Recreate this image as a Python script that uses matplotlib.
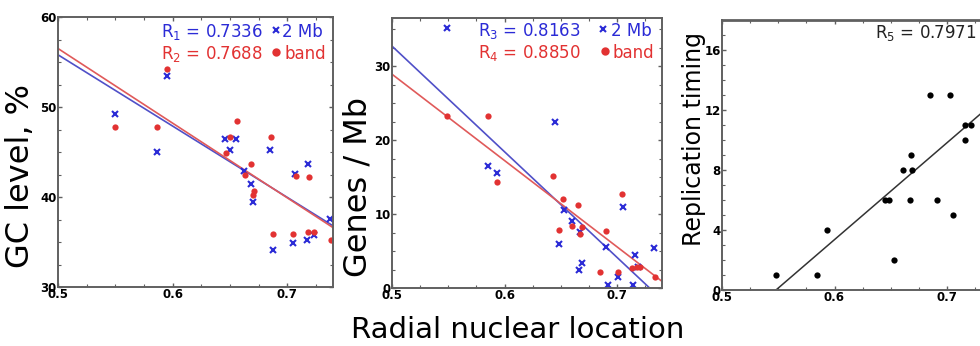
import matplotlib
matplotlib.use("Agg")
import matplotlib.pyplot as plt
from matplotlib.ticker import MultipleLocator

# ---------------- data ----------------
# Panel 1: GC level
gc_mb_x = [0.550, 0.586, 0.595, 0.646, 0.650, 0.655, 0.662, 0.668, 0.670, 0.685,
           0.688, 0.705, 0.707, 0.717, 0.718, 0.723, 0.737]
gc_mb_y = [49.2, 45.0, 53.5, 46.5, 45.2, 46.5, 42.9, 41.4, 39.5, 45.2,
           34.1, 34.9, 42.6, 35.2, 43.7, 35.8, 37.6]
gc_band_x = [0.550, 0.586, 0.595, 0.647, 0.650, 0.656, 0.663, 0.668, 0.671, 0.670,
             0.688, 0.686, 0.705, 0.708, 0.718, 0.719, 0.723, 0.738]
gc_band_y = [47.8, 47.8, 54.2, 44.9, 46.7, 48.4, 42.4, 43.7, 40.7, 40.2,
             35.9, 46.7, 35.9, 42.3, 36.1, 42.2, 36.1, 35.2]
gc_fit_x = [0.50, 0.74]
gc_fit_mb = [55.8, 36.8]
gc_fit_band = [56.5, 36.6]

# Panel 2: genes per Mb
gn_mb_x = [0.549, 0.585, 0.593, 0.645, 0.648, 0.653, 0.660, 0.666, 0.667, 0.669,
           0.690, 0.692, 0.701, 0.705, 0.714, 0.716, 0.719, 0.733]
gn_mb_y = [35.1, 16.5, 15.5, 22.5, 6.0, 10.5, 9.0, 2.4, 7.6, 3.4,
           5.5, 0.4, 1.5, 11.0, 0.4, 4.4, 2.9, 5.4]
gn_band_x = [0.549, 0.585, 0.593, 0.643, 0.648, 0.652, 0.660, 0.665, 0.667, 0.669,
             0.690, 0.685, 0.701, 0.704, 0.713, 0.718, 0.720, 0.734]
gn_band_y = [23.3, 23.3, 14.3, 15.2, 7.8, 12.0, 8.4, 11.2, 7.3, 8.3,
             7.7, 2.2, 2.2, 12.7, 2.7, 2.8, 2.8, 1.5]
gn_fit_mb_x = [0.50, 0.729]
gn_fit_mb = [32.7, 0.0]
gn_fit_band_x = [0.50, 0.74]
gn_fit_band = [28.9, 0.9]

# Panel 3: replication timing
rt_x = [0.548, 0.584, 0.593, 0.645, 0.648, 0.653, 0.661, 0.668, 0.669, 0.667,
        0.685, 0.691, 0.703, 0.705, 0.716, 0.716, 0.721]
rt_y = [1, 1, 4, 6, 6, 2, 8, 9, 8, 6, 13, 6, 13, 5, 10, 11, 11]
rt_fit_x = [0.548, 0.74]
rt_fit_y = [0.0, 12.4]

x_ticks = [0.5, 0.6, 0.7]
x_tick_labels = ["0.5", "0.6", "0.7"]
gc_ticks = [30, 40, 50, 60]
gn_ticks = [0, 10, 20, 30]
rt_ticks = [0, 4, 8, 12, 16]

r_labels = ["R$_1$ = 0.7336", "R$_2$ = 0.7688", "R$_3$ = 0.8163", "R$_4$ = 0.8850",
            "R$_5$ = 0.7971"]
series_labels = ["2 Mb", "band"]

# ---------------- style ----------------
BLUE = "#2b2bd6"
RED = "#e23232"
BLUE_L = "#5050c8"
RED_L = "#e05a5a"
SPINE = "#606060"

plt.rcParams["font.family"] = ["DejaVu Sans"]

W, H = 980, 346
fig = plt.figure(figsize=(W / 100, H / 100), dpi=100)


def axes_px(left, top, right, bottom):
    return fig.add_axes([left / W, (H - bottom) / H, (right - left) / W, (bottom - top) / H])


def style(ax, yminor):
    for s in ax.spines.values():
        s.set_color(SPINE)
        s.set_linewidth(1.4)
    ax.tick_params(which="both", direction="in", top=True, right=True, color=SPINE)
    ax.tick_params(which="major", length=3, width=1, pad=1, labelsize=8.5)
    ax.tick_params(which="minor", length=2, width=0.8)
    ax.xaxis.set_minor_locator(MultipleLocator(0.025))
    ax.yaxis.set_minor_locator(MultipleLocator(yminor))
    ax.set_xticks(x_ticks)
    ax.set_xticklabels(x_tick_labels)
    for lab in ax.get_xticklabels() + ax.get_yticklabels():
        lab.set_fontweight("bold")


def legend_row(ax, xr, yb, rtext, mk, xm, xt, label, color, fs=12):
    ax.text(xr, yb, rtext, transform=ax.transAxes, color=color, fontsize=fs,
            va="baseline", ha="left")
    ax.plot([xm], [yb + 0.025], transform=ax.transAxes, linestyle="none", marker=mk,
            color=color, markersize=4 if mk == "x" else 4.5, mew=1.5, clip_on=False)
    ax.text(xt, yb, label, transform=ax.transAxes, color=color, fontsize=fs,
            va="baseline", ha="left")


# Panel 1
ax1 = axes_px(58, 17, 333, 287)
ax1.plot(gc_fit_x, gc_fit_mb, color=BLUE_L, lw=1.2)
ax1.plot(gc_fit_x, gc_fit_band, color=RED_L, lw=1.2)
ax1.plot(gc_mb_x, gc_mb_y, linestyle="none", marker="x", color=BLUE, ms=4, mew=1.5)
ax1.plot(gc_band_x, gc_band_y, linestyle="none", marker="o", color=RED, ms=4.5, mew=0)
ax1.set_xlim(0.5, 0.74)
ax1.set_ylim(30, 60)
ax1.set_yticks(gc_ticks)
style(ax1, 2.5)
ax1.set_ylabel("GC level, %", fontsize=23)
ax1.yaxis.set_label_coords(-0.08, 0.41)
legend_row(ax1, 0.375, 0.926, r_labels[0], "x", 0.793, 0.815, series_labels[0], BLUE)
legend_row(ax1, 0.375, 0.846, r_labels[1], "o", 0.793, 0.822, series_labels[1], RED)

# Panel 2
ax2 = axes_px(392, 18, 662, 288)
ax2.plot(gn_fit_mb_x, gn_fit_mb, color=BLUE_L, lw=1.2)
ax2.plot(gn_fit_band_x, gn_fit_band, color=RED_L, lw=1.2)
ax2.plot(gn_mb_x, gn_mb_y, linestyle="none", marker="x", color=BLUE, ms=4, mew=1.5)
ax2.plot(gn_band_x, gn_band_y, linestyle="none", marker="o", color=RED, ms=4.5, mew=0)
ax2.set_xlim(0.5, 0.74)
ax2.set_ylim(0, 36.5)
ax2.set_yticks(gn_ticks)
style(ax2, 2.5)
ax2.set_ylabel("Genes / Mb", fontsize=23)
ax2.yaxis.set_label_coords(-0.07, 0.374)
legend_row(ax2, 0.318, 0.935, r_labels[2], "x", 0.781, 0.812, series_labels[0], BLUE)
legend_row(ax2, 0.318, 0.852, r_labels[3], "o", 0.789, 0.818, series_labels[1], RED)

# Panel 3 (extends past the right edge of the figure, as in the source)
ax3 = axes_px(722, 20, 992, 290)
ax3.plot(rt_fit_x, rt_fit_y, color="#333333", lw=1.1)
ax3.plot(rt_x, rt_y, linestyle="none", marker="o", color="black", ms=4.5, mew=0)
ax3.set_xlim(0.5, 0.74)
ax3.set_ylim(0, 18)
ax3.set_yticks(rt_ticks)
style(ax3, 1)
ax3.spines["top"].set_linewidth(2)
ax3.set_ylabel("Replication timing", fontsize=17)
ax3.yaxis.set_label_coords(-0.06, 0.56)
ax3.text(0.567, 0.933, r_labels[4], transform=ax3.transAxes, fontsize=12,
         va="baseline", ha="left", color="#222222")

fig.text(0.528, 0.022, "Radial nuclear location", fontsize=21, ha="center",
         va="baseline")

fig.savefig("out.png", dpi=100)
